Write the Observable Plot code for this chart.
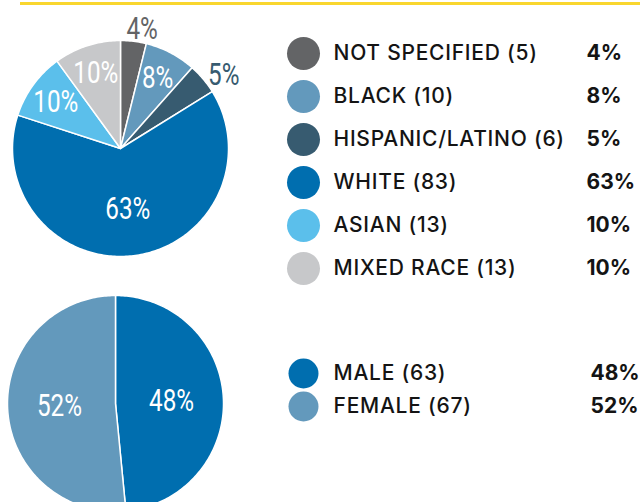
<!DOCTYPE html>
<html><head><meta charset="utf-8">
<script src="https://cdn.jsdelivr.net/npm/d3@7"></script>
<script src="https://cdn.jsdelivr.net/npm/@observablehq/plot@0.6"></script>
<style>
html,body{margin:0;padding:0;background:#fff;overflow:hidden}
#root{position:relative;width:640px;height:502px;overflow:hidden;background:#fff}
#root > div{position:absolute}
#rule{left:20px;top:2px;width:620px;height:3px;background:#f9d62e}
</style></head><body>
<div id="root">
  <div id="rule"></div>
  <div id="pie1" style="left:0;top:0"></div>
  <div id="leg1" style="left:270px;top:30px"></div>
  <div id="pie2" style="left:0;top:285px"></div>
  <div id="leg2" style="left:270px;top:340px"></div>
</div>
<script>
// ---- data ----
const races = ["NOT SPECIFIED", "BLACK", "HISPANIC/LATINO", "WHITE", "ASIAN", "MIXED RACE"];
const raceCounts = [5, 10, 6, 83, 13, 13];
const racePercents = ["4%", "8%", "5%", "63%", "10%", "10%"];
const raceColors = ["#636466", "#6399bc", "#375b70", "#006eaf", "#5bbfeb", "#c7c8ca"];

const genders = ["MALE", "FEMALE"];
const genderCounts = [63, 67];
const genderPercents = ["48%", "52%"];
const genderColors = ["#006eaf", "#6399bc"];

const condensed = "Roboto, 'Liberation Sans', sans-serif";
const legendFont = "Inter, 'Noto Sans', sans-serif";

// slice outlines (unit circle, clockwise from 12 o'clock)
function slices(cats, counts, percents) {
  const total = d3.sum(counts);
  let acc = 0;
  const pts = [], mids = [];
  cats.forEach((c, i) => {
    const a0 = acc / total * 2 * Math.PI; acc += counts[i];
    const a1 = acc / total * 2 * Math.PI;
    const n = Math.max(2, Math.ceil((a1 - a0) / (Math.PI / 180)));
    pts.push({cat: c, x: 0, y: 0});
    for (let k = 0; k <= n; k++) {
      const a = a0 + (a1 - a0) * k / n;
      pts.push({cat: c, x: Math.sin(a), y: Math.cos(a)});
    }
    pts.push({cat: c, x: 0, y: 0});
    mids.push({cat: c, a: (a0 + a1) / 2, share: counts[i] / total, text: percents[i]});
  });
  return {pts, mids};
}

function narrowText(svg, k) {
  svg.querySelectorAll('g[aria-label="text"] text').forEach(t => {
    const tr = t.getAttribute("transform");
    if (tr) t.setAttribute("transform", tr + ` scale(${k},1)`);
    else {
      const x = +t.getAttribute("x") || 0, y = +t.getAttribute("y") || 0;
      t.setAttribute("x", 0); t.setAttribute("y", 0);
      t.setAttribute("transform", `translate(${x},${y}) scale(${k},1)`);
    }
  });
  return svg;
}

function piePlot({cats, counts, colors, percents, w, h, cx, cy, R, inR, outR}) {
  const {pts, mids} = slices(cats, counts, percents);
  const labels = mids.map(m => {
    const outside = m.share < 0.06;
    const r = outside ? outR(m) : inR(m);
    return {...m, outside, side: outside && Math.sin(m.a) > 0.3,
            x: r * Math.sin(m.a), y: r * Math.cos(m.a)};
  });
  const txt = {x: "x", y: "y", text: "text", fontSize: 31.5, fontWeight: 400, fontFamily: condensed};
  const svg = Plot.plot({
    width: w, height: h, margin: 0,
    style: {background: "transparent", overflow: "hidden"},
    x: {domain: [-cx / R, (w - cx) / R], axis: null},
    y: {domain: [-(h - cy) / R, cy / R], axis: null},
    color: {domain: cats, range: colors},
    marks: [
      Plot.line(pts, {x: "x", y: "y", z: "cat", fill: "cat", stroke: "#fff", strokeWidth: 1.5, strokeLinejoin: "round"}),
      Plot.text(labels.filter(d => !d.outside), {...txt, fill: "#fff"}),
      Plot.text(labels.filter(d => d.outside && !d.side), {...txt, fill: "cat", dx: 7}),
      Plot.text(labels.filter(d => d.outside && d.side), {...txt, fill: "cat", textAnchor: "start"})
    ]
  });
  return narrowText(svg, 0.77);
}

function legendPlot({cats, counts, percents, colors, w, h, y0, step, r, pctX}) {
  const rows = cats.map((c, i) => ({cat: c, label: `${c} (${counts[i]})`, pct: percents[i]}));
  const svg = Plot.plot({
    width: w, height: h, margin: 0,
    style: {background: "transparent"},
    y: {type: "point", padding: 0, domain: cats, range: [y0, y0 + step * (cats.length - 1)], axis: null},
    color: {domain: cats, range: colors},
    marks: [
      Plot.dot(rows, {y: "cat", fill: "cat", r, frameAnchor: "left", dx: 33}),
      Plot.text(rows, {y: "cat", text: "label", frameAnchor: "left", dx: 63, textAnchor: "start",
        fontSize: 21, fontWeight: 500, fill: "#141414", fontFamily: legendFont}),
      Plot.text(rows, {y: "cat", text: "pct", frameAnchor: "left", dx: pctX, textAnchor: "start",
        fontSize: 21, fontWeight: 700, fill: "#141414", fontFamily: legendFont})
    ]
  });
  const groups = svg.querySelectorAll('g[aria-label="text"]');
  if (groups[0]) groups[0].style.letterSpacing = "0.75px";
  return svg;
}

document.getElementById("pie1").append(piePlot({
  cats: races, counts: raceCounts, colors: raceColors, percents: racePercents,
  w: 260, h: 280, cx: 120, cy: 148, R: 108,
  inR: m => m.share > 0.3 ? 0.56 : 0.74, outR: m => m.share < 0.045 ? 1.12 : 1.06
}));
document.getElementById("leg1").append(legendPlot({
  cats: races, counts: raceCounts, percents: racePercents, colors: raceColors,
  w: 370, h: 260, y0: 23, step: 43, r: 16.5, pctX: 316
}));
document.getElementById("pie2").append(piePlot({
  cats: genders, counts: genderCounts, colors: genderColors, percents: genderPercents,
  w: 240, h: 217, cx: 115, cy: 118, R: 108,
  inR: m => 0.52, outR: m => 1.1
}));
document.getElementById("leg2").append(legendPlot({
  cats: genders, counts: genderCounts, percents: genderPercents, colors: genderColors,
  w: 370, h: 90, y0: 33, step: 33.5, r: 15, pctX: 320
}));
</script>
</body></html>
